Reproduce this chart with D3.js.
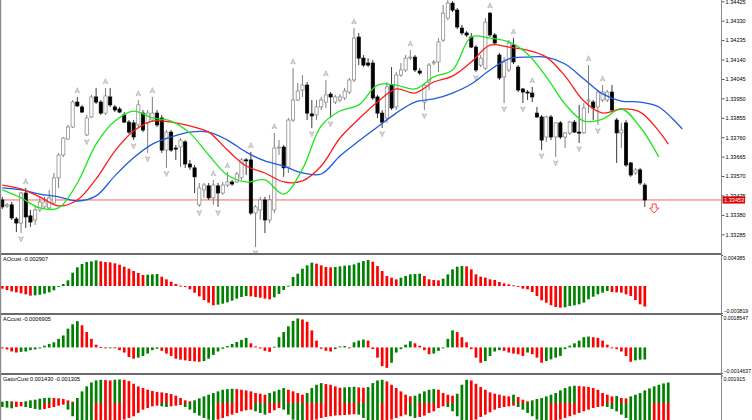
<!DOCTYPE html>
<html><head><meta charset="utf-8">
<script src="https://cdn.jsdelivr.net/npm/d3@7/dist/d3.min.js"></script>
<style>html,body{margin:0;padding:0;background:#fff;overflow:hidden}svg{display:block}</style>
</head><body><svg id="c" width="752" height="420"></svg>
<script>
// ---------- DATA ----------
const opens=[1.33453,1.33424,1.33429,1.33360,1.33340,1.33487,1.33375,1.33355,1.33404,1.33419,1.33414,1.33438,1.33561,1.33673,1.33751,1.33810,1.33932,1.33908,1.33771,1.33859,
1.33957,1.33932,1.33878,1.33957,1.33908,1.33898,1.33869,1.33834,1.33830,1.33820,1.33878,1.33830,1.33844,1.33878,1.33854,1.33697,1.33785,1.33707,1.33712,1.33737,
1.33629,1.33610,1.33429,1.33502,1.33522,1.33463,1.33522,1.33487,1.33526,1.33541,1.33541,1.33561,1.33649,1.33649,1.33389,1.33404,1.33453,1.33355,1.33404,1.33707,
1.33712,1.33614,1.33844,1.33942,1.33991,1.34015,1.33874,1.33869,1.33908,1.33932,1.33971,1.33932,1.33942,1.33952,1.33981,1.34040,1.34250,1.34147,1.34123,1.34123,
1.33957,1.33878,1.33854,1.34015,1.33908,1.34064,1.34089,1.34147,1.34152,1.34084,1.33932,1.34030,1.34123,1.34128,1.34235,1.34343,1.34416,1.34382,1.34294,1.34270,
1.34250,1.34201,1.34113,1.34098,1.34367,1.34260,1.34162,1.34055,1.34089,1.34211,1.34103,1.33996,1.33981,1.33976,1.33878,1.33859,1.33761,1.33859,1.33761,1.33830,
1.33761,1.33781,1.33834,1.33785,1.33781,1.33937,1.33932,1.33908,1.33942,1.33942,1.33981,1.33844,1.33781,1.33830,1.33634,1.33585,1.33600,1.33526];
const highs=[1.33468,1.33438,1.33443,1.33370,1.33492,1.33512,1.33404,1.33419,1.33468,1.33468,1.33502,1.33585,1.33683,1.33761,1.33820,1.33942,1.33957,1.33918,1.33869,1.33967,
1.34001,1.33942,1.34001,1.34001,1.33918,1.33908,1.33883,1.33844,1.33844,1.33942,1.33893,1.33893,1.33957,1.33893,1.33869,1.33795,1.33795,1.33722,1.33756,1.33746,
1.33649,1.33624,1.33536,1.33536,1.33536,1.33551,1.33536,1.33541,1.33590,1.33551,1.33590,1.33658,1.33658,1.33688,1.33429,1.33468,1.33468,1.33478,1.33781,1.33746,
1.33722,1.33854,1.34098,1.34025,1.34064,1.34030,1.33942,1.33942,1.33957,1.34040,1.33981,1.33967,1.33971,1.34001,1.34050,1.34294,1.34270,1.34162,1.34147,1.34138,
1.33967,1.33893,1.34030,1.34103,1.34079,1.34123,1.34162,1.34186,1.34162,1.34098,1.34025,1.34123,1.34138,1.34245,1.34407,1.34431,1.34426,1.34392,1.34309,1.34279,
1.34270,1.34211,1.34162,1.34343,1.34372,1.34270,1.34172,1.34152,1.34235,1.34245,1.34113,1.34001,1.33991,1.34006,1.33908,1.33869,1.33864,1.33869,1.33834,1.33839,
1.33785,1.33839,1.33844,1.33918,1.33927,1.34113,1.33942,1.33991,1.34015,1.33991,1.34015,1.33854,1.33830,1.33844,1.33639,1.33610,1.33610,1.33536];
const lows=[1.33409,1.33414,1.33355,1.33296,1.33291,1.33316,1.33321,1.33331,1.33394,1.33409,1.33409,1.33429,1.33512,1.33663,1.33746,1.33805,1.33908,1.33878,1.33766,1.33854,
1.33922,1.33869,1.33869,1.33908,1.33883,1.33878,1.33830,1.33776,1.33746,1.33805,1.33785,1.33683,1.33834,1.33810,1.33683,1.33610,1.33688,1.33649,1.33614,1.33610,
1.33600,1.33487,1.33419,1.33463,1.33453,1.33429,1.33419,1.33478,1.33517,1.33522,1.33536,1.33551,1.33575,1.33380,1.33223,1.33355,1.33291,1.33340,1.33389,1.33673,
1.33566,1.33585,1.33834,1.33937,1.33957,1.33844,1.33805,1.33844,1.33893,1.33903,1.33854,1.33922,1.33932,1.33942,1.33971,1.34030,1.34113,1.34103,1.34103,1.33942,
1.33854,1.33805,1.33830,1.33893,1.33893,1.34055,1.34079,1.34138,1.34079,1.34064,1.33893,1.33991,1.34113,1.34079,1.34226,1.34333,1.34372,1.34289,1.34260,1.34250,
1.34196,1.34079,1.34103,1.34089,1.34250,1.34211,1.34040,1.33927,1.34079,1.34118,1.33981,1.33927,1.33942,1.33932,1.33854,1.33697,1.33737,1.33746,1.33663,1.33751,
1.33707,1.33771,1.33781,1.33732,1.33776,1.33878,1.33844,1.33820,1.33932,1.33932,1.33883,1.33634,1.33707,1.33614,1.33566,1.33575,1.33526,1.33419];
const closes=[1.33419,1.33429,1.33365,1.33340,1.33487,1.33370,1.33345,1.33404,1.33443,1.33443,1.33463,1.33561,1.33673,1.33756,1.33810,1.33932,1.33913,1.33883,1.33854,1.33957,
1.33932,1.33878,1.33962,1.33918,1.33893,1.33883,1.33834,1.33785,1.33761,1.33918,1.33795,1.33878,1.33878,1.33820,1.33697,1.33785,1.33697,1.33702,1.33746,1.33629,
1.33614,1.33566,1.33512,1.33526,1.33463,1.33526,1.33487,1.33526,1.33541,1.33531,1.33580,1.33649,1.33644,1.33389,1.33419,1.33453,1.33355,1.33453,1.33707,1.33712,
1.33610,1.33844,1.33942,1.33986,1.34015,1.33878,1.33864,1.33908,1.33942,1.33967,1.33957,1.33957,1.33957,1.33986,1.34040,1.34245,1.34147,1.34113,1.34113,1.33952,
1.33878,1.33834,1.34006,1.33903,1.34064,1.34089,1.34147,1.34152,1.34089,1.34074,1.34015,1.34113,1.34128,1.34226,1.34367,1.34416,1.34382,1.34299,1.34270,1.34260,
1.34201,1.34089,1.34147,1.34323,1.34260,1.34221,1.34050,1.34128,1.34221,1.34128,1.33991,1.33981,1.33976,1.33957,1.33859,1.33746,1.33859,1.33761,1.33830,1.33761,
1.33781,1.33834,1.33785,1.33781,1.33903,1.33942,1.33903,1.33981,1.33981,1.33981,1.33893,1.33781,1.33795,1.33624,1.33575,1.33600,1.33536,1.33453];

const jawBars=[0,4,8,12,16,20,24,28,32,36,40,44,48,52,56,60,64,68,72,76,80,84,88,92,96,100,104,108,112,116,120,124,128,132,136,140,144,145];
const jawVals=[1.33512,1.33502,1.33482,1.33468,1.33448,1.33473,1.33571,1.33659,1.33726,1.33761,1.33785,1.33785,1.33746,1.33687,1.33644,1.33619,1.33585,1.33580,1.33668,1.33741,1.33810,1.33878,1.33932,1.33947,1.33976,1.34020,1.34089,1.34143,1.34152,1.34152,1.34118,1.34045,1.33972,1.33937,1.33932,1.33908,1.33825,1.33800];
const teethBars=[0,4,8,12,16,20,24,28,32,36,40,44,48,52,56,60,64,68,72,76,80,84,88,92,96,100,104,108,112,116,120,124,128,132,136,140,142];
const teethVals=[1.33526,1.33507,1.33468,1.33424,1.33453,1.33556,1.33692,1.33790,1.33839,1.33834,1.33815,1.33785,1.33697,1.33619,1.33585,1.33541,1.33546,1.33619,1.33756,1.33849,1.33932,1.33996,1.33976,1.34030,1.34059,1.34128,1.34211,1.34201,1.34186,1.34152,1.34059,1.33937,1.33878,1.33898,1.33883,1.33790,1.33726];
const lipsBars=[0,4,8,12,16,20,24,28,32,36,40,44,48,52,56,60,64,68,72,76,80,84,88,92,96,100,104,108,112,116,120,124,128,132,136,140];
const lipsVals=[1.33502,1.33463,1.33414,1.33414,1.33536,1.33726,1.33839,1.33888,1.33854,1.33839,1.33780,1.33673,1.33575,1.33541,1.33551,1.33482,1.33604,1.33815,1.33888,1.33918,1.34015,1.34015,1.33996,1.34055,1.34089,1.34250,1.34245,1.34226,1.34167,1.34055,1.33922,1.33839,1.33849,1.33898,1.33810,1.33663];

const fractalUp=[5,16,22,29,32,45,48,53,58,62,69,75,87,104,109,113,125,128];
const fractalDown=[4,18,28,31,35,42,46,54,66,70,81,90,101,107,111,115,118,123,127];
const signalBar=139, signalPrice=1.33433;

const priceTicks=[1.34425,1.34330,1.34235,1.34140,1.34045,1.33950,1.33855,1.33760,1.33665,1.33570,1.33475,1.33380,1.33285];
const lastPrice=1.33453;

const aoValues=[-0.000377,-0.000565,-0.000754,-0.000895,-0.001036,-0.001178,-0.001366,-0.001319,-0.001225,-0.001083,-0.000895,-0.000612,-0.000094,0.000283,0.000801,0.001884,0.002638,0.003109,0.003391,0.003485,
0.003627,0.003485,0.003391,0.003344,0.003203,0.003014,0.002732,0.002449,0.002120,0.001837,0.001554,0.001601,0.001649,0.001696,0.001319,0.000942,0.000612,0.000283,0.000047,-0.000141,
-0.000471,-0.000942,-0.001460,-0.001978,-0.002355,-0.002732,-0.002638,-0.002496,-0.002308,-0.002072,-0.001790,-0.001554,-0.001413,-0.001460,-0.001554,-0.001649,-0.001790,-0.001884,-0.001601,-0.001130,
-0.000565,0.000047,0.001272,0.001743,0.002449,0.002920,0.003297,0.003156,0.002920,0.002685,0.002638,0.002685,0.002779,0.002873,0.002920,0.003062,0.003297,0.003533,0.003674,0.003438,
0.002826,0.002120,0.001413,0.001178,0.000942,0.001178,0.001413,0.001649,0.001696,0.001743,0.001413,0.000942,0.000848,0.000801,0.001036,0.001649,0.002355,0.002732,0.002826,0.002779,
0.002355,0.001649,0.001319,0.001178,0.000942,0.000848,0.000565,0.000377,0.000236,0.000094,-0.000094,-0.000377,-0.000471,-0.000848,-0.001413,-0.002025,-0.002355,-0.002732,-0.002967,-0.003062,
-0.003014,-0.002826,-0.002732,-0.002591,-0.002355,-0.001884,-0.001507,-0.001178,-0.000942,-0.000707,-0.000848,-0.000895,-0.000942,-0.001178,-0.001413,-0.001978,-0.002591,-0.002907];
const acValues=[-0.000059,-0.000117,-0.000234,-0.000293,-0.000254,-0.000234,-0.000156,-0.000117,-0.000059,0.000098,0.000195,0.000293,0.000488,0.000683,0.001073,0.001326,0.001502,0.001268,0.000878,0.000488,
0.000156,0.000020,-0.000039,-0.000020,-0.000039,-0.000156,-0.000293,-0.000546,-0.000644,-0.000585,-0.000488,-0.000351,-0.000156,-0.000078,-0.000195,-0.000351,-0.000488,-0.000644,-0.000702,-0.000741,
-0.000780,-0.000800,-0.000819,-0.000780,-0.000644,-0.000429,-0.000234,-0.000078,0.000078,0.000195,0.000312,0.000429,0.000546,0.000234,0.000059,-0.000059,-0.000195,-0.000254,0.000039,0.000585,
0.000878,0.001209,0.001521,0.001658,0.001599,0.001463,0.000975,0.000390,-0.000078,-0.000195,-0.000234,-0.000098,0.000059,0.000078,-0.000020,0.000293,0.000390,0.000449,0.000390,-0.000098,
-0.000585,-0.001073,-0.001170,-0.000878,-0.000293,-0.000098,0.000156,0.000351,0.000234,0.000098,-0.000156,-0.000390,-0.000351,-0.000195,-0.000020,0.000488,0.000975,0.000878,0.000585,0.000293,
-0.000098,-0.000585,-0.000878,-0.000780,-0.000488,-0.000234,-0.000156,-0.000195,-0.000293,-0.000351,-0.000390,-0.000488,-0.000293,-0.000390,-0.000585,-0.000878,-0.000780,-0.000683,-0.000585,-0.000488,
-0.000098,0.000098,0.000234,0.000390,0.000585,0.000624,0.000585,0.000546,0.000390,0.000156,-0.000039,-0.000098,-0.000234,-0.000488,-0.000819,-0.000741,-0.000702,-0.0006905];
const gatorUpper=[0.000092,0.000139,0.000116,0.000092,0.000069,0.000116,0.000185,0.000231,0.000300,0.000347,0.000370,0.000347,0.000323,0.000277,0.000185,0.000092,0.000347,0.000809,0.001155,0.001432,
0.001571,0.001617,0.001594,0.001571,0.001617,0.001640,0.001617,0.001525,0.001340,0.001155,0.001040,0.000924,0.000832,0.000762,0.000739,0.000693,0.000624,0.000508,0.000347,0.000185,
0.000116,0.000185,0.000323,0.000462,0.000578,0.000693,0.000809,0.000924,0.000970,0.000993,0.000970,0.000924,0.000878,0.000809,0.000693,0.000647,0.000578,0.000693,0.000809,0.000924,
0.001040,0.000924,0.000809,0.000693,0.000578,0.000693,0.001040,0.001271,0.001386,0.001317,0.001271,0.001155,0.001063,0.001086,0.001109,0.001132,0.001086,0.001063,0.001109,0.001386,
0.001571,0.001617,0.001502,0.001271,0.001040,0.000809,0.000578,0.000462,0.000508,0.000647,0.000809,0.000924,0.000970,0.000924,0.000693,0.000578,0.000508,0.000647,0.001271,0.001617,
0.001571,0.001340,0.001109,0.000924,0.000739,0.000647,0.000578,0.000508,0.000462,0.000578,0.000416,0.000231,0.000116,0.000185,0.000277,0.000347,0.000462,0.000578,0.000693,0.000878,
0.001040,0.001155,0.001201,0.001178,0.001155,0.001109,0.001040,0.000924,0.000693,0.000578,0.000462,0.000485,0.000347,0.000323,0.000462,0.000578,0.000693,0.000878,0.001016,0.001155,
0.001271,0.001363,0.001430];
const gatorLower=[-0.000277,-0.000323,-0.000370,-0.000277,-0.000231,-0.000277,-0.000347,-0.000416,-0.000462,-0.000416,-0.000347,-0.000277,-0.000185,-0.000116,-0.000462,-0.000924,-0.001271,-0.001502,-0.001617,-0.001663,
-0.001617,-0.001502,-0.001432,-0.001386,-0.001340,-0.001271,-0.001155,-0.001040,-0.000924,-0.000693,-0.000462,-0.000347,-0.000231,-0.000185,-0.000231,-0.000277,-0.000231,-0.000185,-0.000139,-0.000277,
-0.000462,-0.000693,-0.000878,-0.001040,-0.001155,-0.001201,-0.001155,-0.001040,-0.000924,-0.000809,-0.000693,-0.000578,-0.000508,-0.000462,-0.000578,-0.000693,-0.000809,-0.000693,-0.000508,-0.000347,
-0.000462,-0.000809,-0.001155,-0.001386,-0.001502,-0.001386,-0.001271,-0.001155,-0.001040,-0.000970,-0.000924,-0.000878,-0.000855,-0.000832,-0.000809,-0.000785,-0.000809,-0.001040,-0.001271,-0.001386,
-0.001432,-0.001386,-0.001271,-0.001155,-0.001040,-0.000924,-0.000809,-0.000924,-0.001040,-0.000970,-0.000878,-0.000693,-0.000578,-0.000347,-0.000231,-0.000277,-0.000578,-0.000924,-0.001271,-0.001386,
-0.001340,-0.001155,-0.000970,-0.000809,-0.000647,-0.000462,-0.000347,-0.000277,-0.000231,-0.000185,-0.000277,-0.000462,-0.000693,-0.000924,-0.001155,-0.001271,-0.001386,-0.001340,-0.001271,-0.001155,
-0.001040,-0.000924,-0.000809,-0.000693,-0.000578,-0.000462,-0.000347,-0.000277,-0.000231,-0.000277,-0.000416,-0.000578,-0.000809,-0.001040,-0.001271,-0.001386,-0.001432,-0.001455,-0.001478,-0.001455,
-0.001386,-0.001340,-0.001305];

const aoTicks=[0.004385,-0.003819];
const acTicks=[0.0018547,-0.0014637];
const gatorTicks=[0.001915];
const aoLabel="AOcust -0.002907";
const acLabel="ACcust -0.0006905";
const gatorLabel="GatorCust 0.001430 -0.001305";

// ---------- DRAW ----------
const svg=d3.select('#c');
const AX=721.5, FONT='"Liberation Sans", Arial, sans-serif', FS=5.6, FS2=5.2;
const GREEN='#008000', RED='#ff0000', WICK='#7f7f7f';
svg.append('rect').attr('width',752).attr('height',420).attr('fill','#fff');

const x=d3.scaleLinear().domain([0,137]).range([2.3,644.8]);
const y=d3.scaleLinear().domain([1.33285,1.34330]).range([234.3,20.7]);
const aoY=d3.scaleLinear().domain([-0.003819,0.004385]).range([313,255]);
const acY=d3.scaleLinear().domain([-0.0014637,0.0018547]).range([373,315]);
const gY=d3.scaleLinear().domain([0,0.001915]).range([403,375.5]);

const defs=svg.append('defs');
function clip(id,y0,y1){defs.append('clipPath').attr('id',id).append('rect').attr('x',0).attr('y',y0).attr('width',AX).attr('height',y1-y0);}
clip('cm',0,253);clip('ca',255,313);clip('cc',315,373);clip('cg',375,420);

// main panel
const gm=svg.append('g').attr('clip-path','url(#cm)');
gm.append('line').attr('x1',0).attr('x2',AX).attr('y1',y(lastPrice)).attr('y2',y(lastPrice))
  .attr('stroke','#ff5050').attr('stroke-width',0.9);

const idx=d3.range(opens.length);
const up=i=>closes[i]>=opens[i];
gm.selectAll('line.w').data(idx).join('line').attr('class','w')
  .attr('x1',i=>x(i)).attr('x2',i=>x(i)).attr('y1',i=>y(highs[i])).attr('y2',i=>y(lows[i]))
  .attr('stroke',i=>up(i)?WICK:'#3a3a3a').attr('stroke-width',1);
gm.selectAll('rect.b').data(idx).join('rect').attr('class','b')
  .attr('x',i=>x(i)-1.6).attr('width',3.2)
  .attr('y',i=>y(Math.max(opens[i],closes[i])))
  .attr('height',i=>Math.max(1,Math.abs(y(opens[i])-y(closes[i]))))
  .attr('fill',i=>up(i)?'#fff':'#000')
  .attr('stroke',i=>up(i)?WICK:'#000').attr('stroke-width',0.7);

// fractals
const upPath='M0,-2.8 L2.3,2.4 L0,1.1 L-2.3,2.4 Z';
gm.selectAll('path.fu').data(fractalUp).join('path').attr('class','fu')
  .attr('d',upPath).attr('transform',i=>`translate(${x(i)},${y(highs[i])-6.5})`)
  .attr('fill','#dedede').attr('stroke','#a2a2a2').attr('stroke-width',0.6);
gm.selectAll('path.fd').data(fractalDown).join('path').attr('class','fd')
  .attr('d',upPath).attr('transform',i=>`translate(${x(i)},${y(lows[i])+6})rotate(180)`)
  .attr('fill','#dedede').attr('stroke','#a2a2a2').attr('stroke-width',0.6);

// alligator
function drawLine(bars,vals,color){
  const pts=bars.map((b,k)=>[x(b),y(vals[k])]);
  gm.append('path').attr('d',d3.line().curve(d3.curveCatmullRom.alpha(0.5))(pts))
    .attr('fill','none').attr('stroke',color).attr('stroke-width',1.3);
}
drawLine(jawBars,jawVals,'#1f5ae0');
drawLine(teethBars,teethVals,'#ff1c1c');
drawLine(lipsBars,lipsVals,'#1ee51e');

// signal arrow (hollow red down arrow)
{
  const sx=x(signalBar), sy=y(signalPrice);
  gm.append('path').attr('d',`M${sx-2},${sy} h4 v4 h2.5 l-4.5,5 l-4.5,-5 h2.5 Z`)
    .attr('fill','#fff').attr('stroke','#ff3030').attr('stroke-width',0.9);
}

// histogram helper
function colors(vals,first,useAbs){
  let c=first;
  return vals.map((v,i)=>{
    if(i>0){const a=useAbs?Math.abs(v):v, p=useAbs?Math.abs(vals[i-1]):vals[i-1];
      if(a>p)c=GREEN;else if(a<p)c=RED;}
    return c;});
}
function hist(g,vals,sc,first,useAbs){
  const cols=colors(vals,first,useAbs);
  g.selectAll(null).data(vals).join('rect')
   .attr('x',(v,i)=>x(i)-1.35).attr('width',2.7)
   .attr('y',v=>Math.min(sc(v),sc(0)))
   .attr('height',v=>Math.max(0.9,Math.abs(sc(v)-sc(0))))
   .attr('fill',(v,i)=>cols[i]);
}
hist(svg.append('g').attr('clip-path','url(#ca)'),aoValues,aoY,RED,false);
hist(svg.append('g').attr('clip-path','url(#cc)'),acValues,acY,RED,false);
const gg=svg.append('g').attr('clip-path','url(#cg)');
hist(gg,gatorUpper,gY,GREEN,false);
hist(gg,gatorLower,gY,GREEN,true);

// separators & borders
[253,313,373].forEach(v=>svg.append('rect').attr('x',0).attr('y',v).attr('width',AX).attr('height',2).attr('fill','#6a6a6a'));
svg.append('line').attr('x1',0.6).attr('x2',0.6).attr('y1',0).attr('y2',420).attr('stroke','#8a8a8a').attr('stroke-width',1.2);

// price axis
const axG=svg.append('g').attr('transform',`translate(${AX},0)`)
  .call(d3.axisRight(y).tickValues(priceTicks).tickSize(3).tickPadding(1).tickFormat(d3.format('.5f')));
axG.select('.domain').remove();
axG.selectAll('line').attr('stroke','#555');
axG.selectAll('text').attr('font-family',FONT).attr('font-size',FS).attr('fill','#000');
svg.append('line').attr('x1',AX).attr('x2',AX).attr('y1',0).attr('y2',420).attr('stroke','#8a8a8a').attr('stroke-width',1);

// last price tag
svg.append('rect').attr('x',AX+1).attr('y',y(lastPrice)-3.6).attr('width',22.5).attr('height',7.2).attr('fill','#e00000');
svg.append('text').attr('x',AX+2.5).attr('y',y(lastPrice)).attr('dy','0.35em').attr('font-family',FONT)
  .attr('font-size',FS).attr('fill','#fff').text(d3.format('.5f')(lastPrice));

// subpanel axes
function subAxis(sc,ticks,fmt){
  const g=svg.append('g').attr('transform',`translate(${AX},0)`)
    .call(d3.axisRight(sc).tickValues(ticks).tickSize(1.5).tickPadding(0.5).tickFormat(fmt));
  g.select('.domain').remove();
  g.selectAll('line').attr('stroke','#555');
  g.selectAll('text').attr('font-family',FONT).attr('font-size',FS2).attr('fill','#000')
    .attr('dy',(d,i)=>i===0?'0.9em':'-0.15em');
}
subAxis(aoY,aoTicks,d3.format('.6f'));
subAxis(acY,acTicks,d3.format('.7f'));
subAxis(gY,gatorTicks,d3.format('.6f'));

// panel labels
[[aoLabel,261],[acLabel,321],[gatorLabel,381]].forEach(([t,yy])=>
  svg.append('text').attr('x',3).attr('y',yy).attr('font-family',FONT).attr('font-size',FS).attr('fill','#000').text(t));
</script></body></html>
